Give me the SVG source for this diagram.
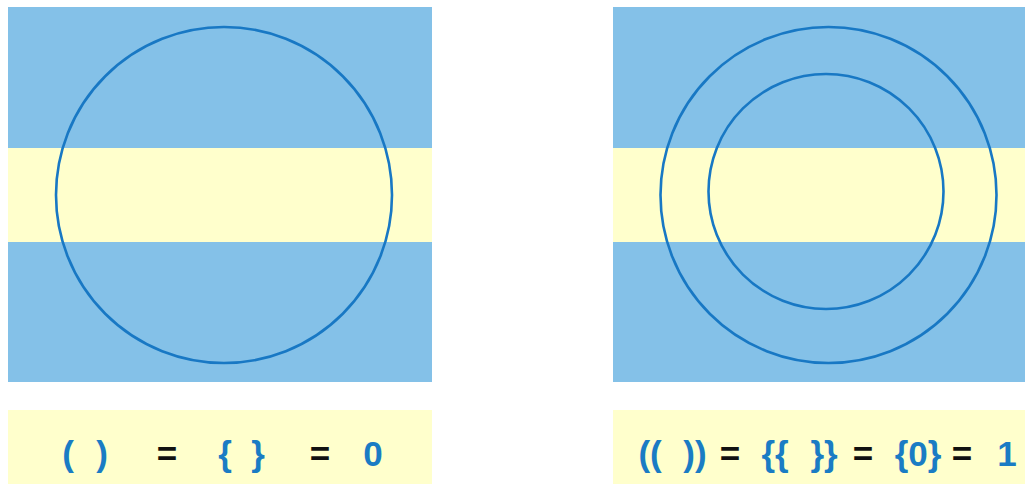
<svg xmlns="http://www.w3.org/2000/svg" width="1025" height="486" viewBox="0 0 1025 486">
<style>
.blue{fill:#84c1e8}
.yel{fill:#ffffcc}
.circ{fill:none;stroke:#1878c4;stroke-width:2.6}
.t{font-family:"Liberation Sans",Arial,sans-serif;font-weight:bold;font-size:35px;text-anchor:middle}
.b{fill:#1a7cc4}
.k{fill:#111}
</style>
<rect width="1025" height="486" fill="#ffffff"/>
<g id="left-panel">
<rect class="blue" x="8" y="7" width="424" height="375"/>
<rect class="yel" x="8" y="148" width="424" height="94"/>
<circle class="circ" cx="224" cy="195" r="168"/>
</g>
<g id="right-panel">
<rect class="blue" x="613" y="7" width="412" height="375"/>
<rect class="yel" x="613" y="148" width="412" height="94"/>
<circle class="circ" cx="828.5" cy="195" r="168"/>
<circle class="circ" cx="826" cy="191.5" r="117.5"/>
</g>
<g id="left-formula">
<rect class="yel" x="8" y="410" width="424" height="74"/>
<text class="t b" y="466"><tspan x="73">(</tspan> <tspan x="102">)</tspan></text>
<text class="t k" x="167" y="466">=</text>
<text class="t b" y="466"><tspan x="230">{</tspan> <tspan x="258">}</tspan></text>
<text class="t k" x="320" y="466">=</text>
<text class="t b" x="373" y="466">0</text>
</g>
<g id="right-formula">
<rect class="yel" x="613" y="410" width="412" height="74"/>
<text class="t b" y="466"><tspan x="655">((</tspan> <tspan x="695">))</tspan></text>
<text class="t k" x="730" y="466">=</text>
<text class="t b" y="466"><tspan x="780">{{</tspan> <tspan x="824">}}</tspan></text>
<text class="t k" x="863" y="466">=</text>
<text class="t b" x="918" y="466">{0}</text>
<text class="t k" x="962" y="466">=</text>
<text class="t b" x="1007" y="466">1</text>
</g>
</svg>
